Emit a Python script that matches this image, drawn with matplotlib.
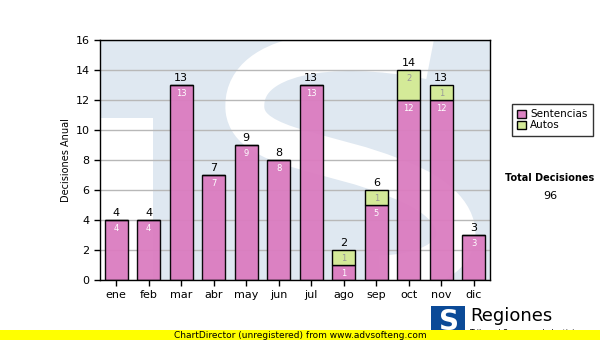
import matplotlib
matplotlib.use('Agg')
import matplotlib.pyplot as plt
from matplotlib.path import Path
from matplotlib.patches import PathPatch, Rectangle

# monthly decisions, split by type
meses = ['ene', 'feb', 'mar', 'abr', 'may', 'jun', 'jul', 'ago', 'sep', 'oct', 'nov', 'dic']
sentencias = [4, 4, 13, 7, 9, 8, 13, 1, 5, 12, 12, 3]
autos = [0, 0, 0, 0, 0, 0, 0, 1, 1, 2, 1, 0]
totales = [s + a for s, a in zip(sentencias, autos)]
total_decisiones = sum(totales)

PINK = '#db7cc0'
GREEN = '#d4ea98'
WM_BLUE = '#dfe8f1'

plt.rcParams['font.family'] = ['DejaVu Sans']
fig = plt.figure(figsize=(6, 3.4), dpi=100)
ax = fig.add_axes([100 / 600, 60 / 340, 390 / 600, 240 / 340])


def px(x, y):
    # pixel position inside the plot box -> axes fraction
    return ((x - 100) / 390, (280 - y) / 240)


# faint logo behind the bars
ax.set_facecolor(WM_BLUE)
x0, y0 = px(100, 280)
x1, y1 = px(153, 118)
ax.add_patch(Rectangle((x0, y0), x1 - x0, y1 - y0, transform=ax.transAxes,
                       facecolor='white', edgecolor='none', zorder=0.1))
verts = [px(430, 60), px(330, 40), px(240, 55), px(245, 110),
         px(250, 150), px(330, 150), px(400, 180),
         px(480, 210), px(475, 272), px(380, 275)]
codes = [Path.MOVETO] + [Path.CURVE4] * 9
ax.add_patch(PathPatch(Path(verts, codes), transform=ax.transAxes, facecolor='none',
                       edgecolor='white', lw=28, capstyle='butt', zorder=0.1))

x = range(len(meses))
w = 0.72
ax.bar(x, sentencias, width=w, color=PINK, edgecolor='black', lw=1, alpha=0.95, zorder=3,
       label='Sentencias')
ax.bar(x, autos, width=w, bottom=sentencias, color=GREEN, edgecolor='black', lw=1, zorder=3,
       label='Autos')

for i in x:
    ax.text(i, totales[i] + 0.1, str(totales[i]), ha='center', va='bottom', fontsize=8, zorder=5)
    ax.text(i, sentencias[i] - 0.25, str(sentencias[i]), ha='center', va='top', fontsize=6,
            color='white', zorder=5)
    if autos[i]:
        ax.text(i, totales[i] - 0.25, str(autos[i]), ha='center', va='top', fontsize=6,
                color='#999999', zorder=5)

ax.set_xlim(-0.5, 11.5)
ax.set_ylim(0, 16)
ax.set_yticks(range(0, 17, 2))
ax.set_xticks(list(x))
ax.set_xticklabels(meses)
ax.tick_params(labelsize=8, length=4, width=1, direction='out')
ax.yaxis.grid(True, color='#b8b8b8', lw=1, zorder=0.5)
ax.set_axisbelow(True)
for s in ax.spines.values():
    s.set_linewidth(1)
    s.set_zorder(6)
ax.set_ylabel('Decisiones Anual', fontsize=7, labelpad=3)

leg = fig.legend(loc='upper left', bbox_to_anchor=(507 / 600, 1 - 99 / 340), fontsize=7.5,
                 frameon=True, fancybox=False, edgecolor='black', handlelength=0.8,
                 handleheight=0.8, handletextpad=0.4, borderpad=0.5, labelspacing=0.1)
leg.get_frame().set_linewidth(1)

fig.text(550 / 600, 1 - 178 / 340, 'Total Decisiones', ha='center', va='center', fontsize=7,
         fontweight='bold')
fig.text(550 / 600, 1 - 196 / 340, str(total_decisiones), ha='center', va='center', fontsize=8)

# footer logo and name
fig.patches.append(Rectangle((431 / 600, 1 - 334 / 340), 34 / 600, 28 / 340,
                             transform=fig.transFigure, facecolor='#0b4a97', edgecolor='none',
                             zorder=1))
fig.text(449 / 600, 1 - 322 / 340, 'S', ha='center', va='center', fontsize=20,
         fontweight='bold', color='white', zorder=2)
fig.text(470 / 600, 1 - 316 / 340, 'Regiones', ha='left', va='center', fontsize=13, zorder=2)
fig.text(470 / 600, 1 - 333 / 340, 'Tribunal Supremo de Justicia', ha='left', va='center',
         fontsize=5.5, zorder=2)

# unregistered banner along the bottom
fig.patches.append(Rectangle((0, 0), 1, 10 / 340, transform=fig.transFigure,
                             facecolor='#ffff00', edgecolor='none', zorder=5))
fig.text(300 / 600, 5 / 340, 'ChartDirector (unregistered) from www.advsofteng.com',
         ha='center', va='center', fontsize=6.5, zorder=6)

fig.savefig('out.png', dpi=100)
